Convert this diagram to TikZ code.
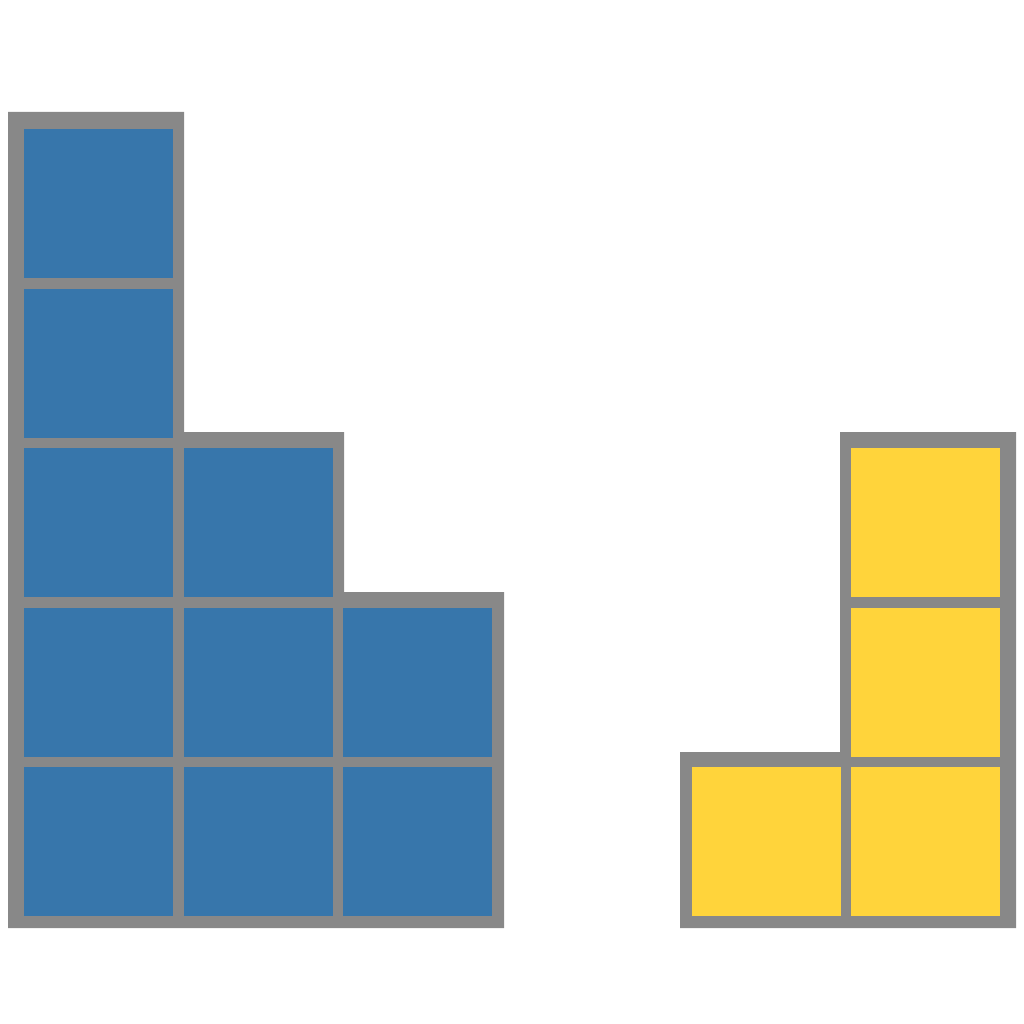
\documentclass[tikz,border=0pt]{standalone}
\definecolor{pyblue}{HTML}{3776AB}
\definecolor{pyyellow}{HTML}{FFD43B}
\definecolor{gridgray}{HTML}{888888}
\tikzset{
  frame/.style={fill=gridgray,draw=none},
  bluecell/.style={fill=pyblue,draw=none},
  yellowcell/.style={fill=pyyellow,draw=none}
}
\begin{document}
\begin{tikzpicture}[x=1pt,y=-1pt]
\useasboundingbox (0,0) rectangle (1024,1024);
\fill[white] (0,0) rectangle (1024,1024);
% blue staircase outline
\path[frame] (8,112) -- (184,112) -- (184,432) -- (344,432) -- (344,592) -- (504,592) -- (504,928) -- (8,928) -- cycle;
% yellow outline
\path[frame] (840,432) -- (1016,432) -- (1016,928) -- (680,928) -- (680,752) -- (840,752) -- cycle;
% blue cells
\foreach \c/\r in {0/0,0/1,0/2,0/3,0/4,1/2,1/3,1/4,2/3,2/4}{
  \path[bluecell] ({24+159.5*\c},{129+159.6*\r}) rectangle ++(149,149);
}
% yellow cells
\foreach \c/\r in {1/2,1/3,0/4,1/4}{
  \path[yellowcell] ({692+159*\c},{129+159.6*\r}) rectangle ++(149,149);
}
\end{tikzpicture}
\end{document}
